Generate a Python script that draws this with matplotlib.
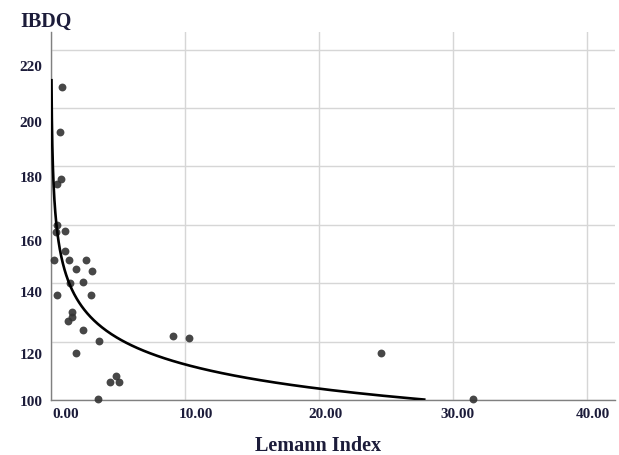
import numpy as np
import matplotlib.pyplot as plt
import matplotlib.transforms as mtransforms

# scatter values
lemann = [0.8, 0.67, 0.72, 0.42, 0.42, 0.37, 1.04, 1.04, 0.25, 1.37, 2.61, 1.87, 3.03,
          1.42, 2.36, 0.42, 2.96, 1.54, 1.29, 1.6, 2.36, 3.6, 1.87, 4.85, 4.4, 5.07,
          3.53, 9.08, 10.3, 24.6, 31.5]
ibdq = [207, 191.7, 175.8, 174, 159.8, 157.5, 157.9, 150.9, 147.9, 147.9, 147.9, 145, 144.1,
        140.1, 140.3, 135.9, 135.9, 130, 127, 128.3, 124, 120.2, 116.2, 108.2, 106.3, 106.3,
        100.2, 122, 121.1, 116, 100.2]

# power fit curve (y = a * x^b), parameters
fit_a = 144.8
fit_b = -0.1108
fit_start = 0.035

xticks = [0, 10, 20, 30, 40]
xlabels = ['0.00', '10.00', '20.00', '30.00', '40.00']
yticks = [100, 120, 140, 160, 180, 200, 220]

# the tick labels in the original sit a little off their gridlines (pixels)
x_shift = [15, 11, 7, 5, 6]
y_shift = [1.5, 12, 9, 16, 11, 14, 16]

txt_color = '#1c1c3a'
plt.rcParams['font.family'] = ['Liberation Serif', 'DejaVu Serif']

fig = plt.figure(figsize=(6.19, 4.55), dpi=100)
ax = fig.add_axes([51 / 619, 1 - 400 / 455, 564 / 619, 368 / 455])

ax.scatter(lemann, ibdq, s=32, color='#333333', alpha=0.9, zorder=3, linewidths=0, clip_on=False)

cx = np.geomspace(fit_start, max(lemann), 400)
cy = fit_a * cx ** fit_b
keep = cy >= 100
ax.plot(cx[keep], cy[keep], color='black', linewidth=1.9, zorder=4, solid_capstyle='butt')

ax.set_xlim(0, 42.1)
ax.set_ylim(100, 226)
ax.set_xticks(xticks)
ax.set_xticklabels(xlabels)
ax.set_yticks(yticks)

ax.grid(True, color='#d6d6d6', linewidth=1)
ax.set_axisbelow(True)
for side in ['top', 'right']:
    ax.spines[side].set_visible(False)
for side in ['left', 'bottom']:
    ax.spines[side].set_color('#808080')
    ax.spines[side].set_linewidth(1)

ax.tick_params(length=0, labelsize=11, colors=txt_color, pad=6)
for lab, dx in zip(ax.get_xticklabels(), x_shift):
    lab.set_fontweight('bold')
    lab.set_transform(lab.get_transform() + mtransforms.ScaledTranslation(dx / 100, 0, fig.dpi_scale_trans))
for lab, dy in zip(ax.get_yticklabels(), y_shift):
    lab.set_fontweight('bold')
    lab.set_transform(lab.get_transform() + mtransforms.ScaledTranslation(0, -dy / 100, fig.dpi_scale_trans))

fig.text(20 / 619, 1 - 22 / 455, 'IBDQ', fontsize=14.5, fontweight='bold', color=txt_color,
         ha='left', va='center')
fig.text(318 / 619, 1 - 446 / 455, 'Lemann Index', fontsize=14.5, fontweight='bold',
         color=txt_color, ha='center', va='center')

fig.savefig('out.png', dpi=100)
